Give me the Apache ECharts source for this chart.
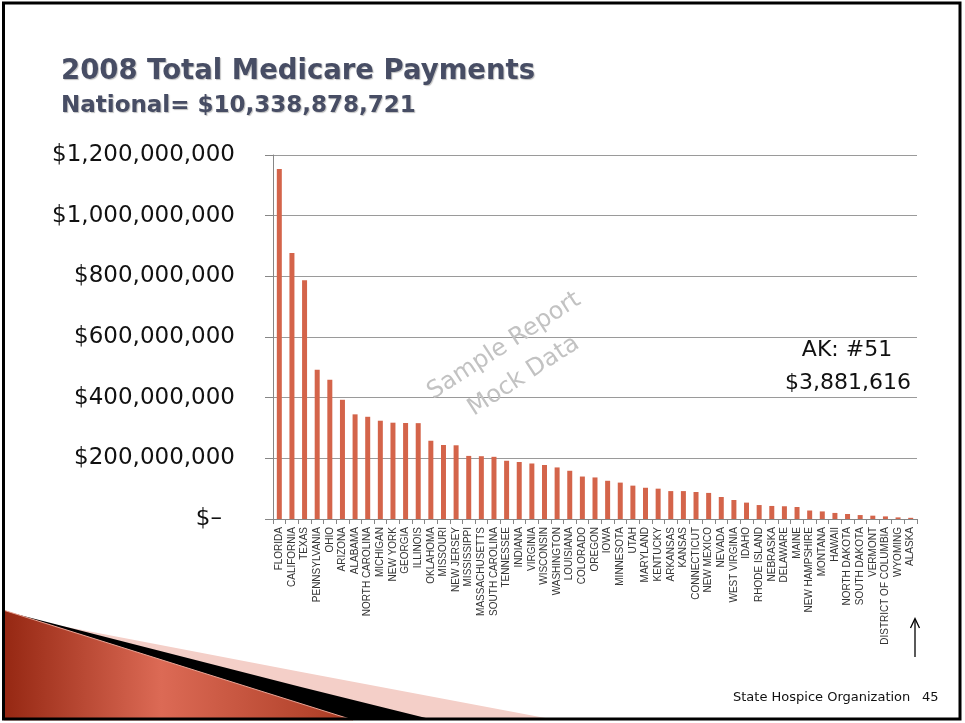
<!DOCTYPE html>
<html>
<head>
<meta charset="utf-8">
<script src="https://cdn.jsdelivr.net/npm/echarts@6/dist/echarts.min.js"></script>
<style>
html,body{margin:0;padding:0;background:#fff;}
#chart{width:965px;height:723px;}
</style>
</head>
<body>
<div id="chart"></div>
<script>
var titleText = '2008 Total Medicare Payments';
var subtitleText = 'National= $10,338,878,721';
var states = ['FLORIDA','CALIFORNIA','TEXAS','PENNSYLVANIA','OHIO','ARIZONA','ALABAMA','NORTH CAROLINA','MICHIGAN','NEW YORK','GEORGIA','ILLINOIS','OKLAHOMA','MISSOURI','NEW JERSEY','MISSISSIPPI','MASSACHUSETTS','SOUTH CAROLINA','TENNESSEE','INDIANA','VIRGINIA','WISCONSIN','WASHINGTON','LOUISIANA','COLORADO','OREGON','IOWA','MINNESOTA','UTAH','MARYLAND','KENTUCKY','ARKANSAS','KANSAS','CONNECTICUT','NEW MEXICO','NEVADA','WEST VIRGINIA','IDAHO','RHODE ISLAND','NEBRASKA','DELAWARE','MAINE','NEW HAMPSHIRE','MONTANA','HAWAII','NORTH DAKOTA','SOUTH DAKOTA','VERMONT','DISTRICT OF COLUMBIA','WYOMING','ALASKA'];
var payments = [1154000000,877000000,787000000,492000000,459000000,393000000,345000000,337000000,324000000,317500000,316500000,316000000,258000000,244000000,243000000,208000000,207000000,205000000,192000000,188000000,183000000,178000000,170000000,159000000,140000000,137000000,126000000,120000000,110000000,103000000,100000000,92000000,92000000,89000000,86000000,72500000,62600000,54000000,46000000,43000000,42000000,39500000,28000000,25000000,20000000,16500000,13000000,11000000,8600000,5300000,3881616];
var yMin = 0, yMax = 1200000000, yStep = 200000000;
var noteLines = ['AK: #51', '$3,881,616'];
var watermarkText = 'Sample Report\nMock Data';
var footerText = 'State Hospice Organization';
var pageNumber = '45';

function fmtMoney(v) {
  if (v === 0) return '{z|$\u2013}';
  return '$' + v.toString().replace(/\B(?=(\d{3})+(?!\d))/g, ',');
}

var chart = echarts.init(document.getElementById('chart'), null, {renderer: 'canvas'});
var option = {
  animation: false,
  backgroundColor: '#ffffff',
  grid: {left: 273, right: 48, top: 155, bottom: 204, containLabel: false},
  xAxis: {
    type: 'category',
    data: states,
    axisLine: {show: true, lineStyle: {color: '#868686', width: 1}},
    axisTick: {show: true, length: 5, interval: 0, lineStyle: {color: '#868686'}},
    axisLabel: {interval: 0, rotate: 90, fontSize: 10, margin: 8, color: '#333333', fontFamily: 'Liberation Sans, Arial, sans-serif'},
    splitLine: {show: false}
  },
  yAxis: {
    type: 'value',
    min: yMin, max: yMax, interval: yStep,
    axisLine: {show: true, lineStyle: {color: '#868686', width: 1}},
    axisTick: {show: true, length: 8, lineStyle: {color: '#868686'}},
    axisLabel: {
      formatter: fmtMoney, fontSize: 23, margin: 38, color: '#111111',
      fontFamily: 'DejaVu Sans, sans-serif',
      rich: {z: {fontSize: 23, fontFamily: 'DejaVu Sans, sans-serif', color: '#111111', padding: [0, 13, 0, 0]}}
    },
    splitLine: {show: true, lineStyle: {color: '#9a9a9a', width: 1}}
  },
  series: [{
    type: 'bar',
    data: payments,
    barWidth: 5,
    itemStyle: {color: '#d4644a'},
    emphasis: {disabled: true}
  }],
  graphic: [
    {type: 'polygon', z: 1, silent: true, shape: {points: [[4, 615], [300, 671.7], [556, 720], [4, 720]]}, style: {fill: '#f4cfc8'}},
    {type: 'polygon', z: 2, silent: true, shape: {points: [[4, 611], [300, 686.7], [434, 720], [4, 720]]}, style: {fill: '#000000'}},
    {type: 'polygon', z: 3, silent: true, shape: {points: [[4, 610.3], [353, 720], [4, 720]]},
      style: {fill: new echarts.graphic.LinearGradient(0, 0, 1, 0, [
        {offset: 0, color: '#952712'}, {offset: 0.45, color: '#dc6a55'}, {offset: 1, color: '#a93a22'}]),
        stroke: '#e9a394', lineWidth: 1}},
    {type: 'rect', z: 10, silent: true, shape: {x: 3.5, y: 3, width: 956.5, height: 716}, style: {fill: 'none', stroke: '#000000', lineWidth: 3}},
    {type: 'text', z: 5, silent: true, x: 61, y: 72,
      style: {text: titleText, font: 'bold 27.5px "DejaVu Sans", sans-serif', fill: '#474d64', align: 'left', verticalAlign: 'middle',
        textShadowColor: 'rgba(0,0,0,0.25)', textShadowOffsetX: 1, textShadowOffsetY: 1, textShadowBlur: 1}},
    {type: 'text', z: 5, silent: true, x: 61, y: 106,
      style: {text: subtitleText, font: 'bold 23px "DejaVu Sans", sans-serif', fill: '#474d64', align: 'left', verticalAlign: 'middle',
        textShadowColor: 'rgba(0,0,0,0.25)', textShadowOffsetX: 1, textShadowOffsetY: 1, textShadowBlur: 1}},
    {type: 'text', z: 5, silent: true, x: 514, y: 361, rotation: 0.576,
      style: {text: watermarkText, font: '24px "DejaVu Sans", sans-serif', fill: '#c2c2c2', align: 'center', verticalAlign: 'middle', lineHeight: 36}},
    {type: 'text', z: 5, silent: true, x: 847, y: 350,
      style: {text: noteLines[0], font: '22px "DejaVu Sans", sans-serif', fill: '#111111', align: 'center', verticalAlign: 'middle'}},
    {type: 'text', z: 5, silent: true, x: 848, y: 383,
      style: {text: noteLines[1], font: '22px "DejaVu Sans", sans-serif', fill: '#111111', align: 'center', verticalAlign: 'middle'}},
    {type: 'line', z: 5, silent: true, shape: {x1: 915, y1: 657, x2: 915, y2: 619}, style: {stroke: '#000000', lineWidth: 1.3}},
    {type: 'polyline', z: 5, silent: true, shape: {points: [[910.5, 628], [915, 618.5], [919.5, 628]]}, style: {stroke: '#000000', lineWidth: 1.3, fill: 'none'}},
    {type: 'text', z: 5, silent: true, x: 733, y: 698,
      style: {text: footerText, font: '13px "DejaVu Sans", sans-serif', fill: '#111111', align: 'left', verticalAlign: 'middle'}},
    {type: 'text', z: 5, silent: true, x: 922, y: 698,
      style: {text: pageNumber, font: '13px "DejaVu Sans", sans-serif', fill: '#111111', align: 'left', verticalAlign: 'middle'}}
  ]
};
chart.setOption(option);
</script>
</body>
</html>
